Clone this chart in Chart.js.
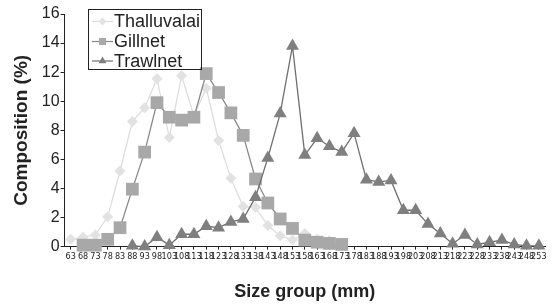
<!DOCTYPE html>
<html>
<head>
<meta charset="utf-8">
<script src="https://cdn.jsdelivr.net/npm/chart.js@4.4.1/dist/chart.umd.min.js"></script>
<style>
    html, body { margin: 0; padding: 0; background: #fff; }
    #wrap { width: 554px; height: 304px; }
</style>
</head>
<body>
<div id="wrap"><canvas id="sizeChart" width="554" height="304"></canvas></div>
<script>
// Size groups (mm)
const sizeGroups = [63, 68, 73, 78, 83, 88, 93, 98, 103, 108, 113, 118, 123, 128, 133, 138, 143, 148, 153,
    158, 163, 168, 173, 178, 183, 188, 193, 198, 203, 208, 213, 218, 223, 228, 233, 238, 243, 248, 253];

// Composition (%) per gear
const thalluvalai = [0.5, 0.65, 0.8, 2.05, 5.2, 8.6, 9.55, 11.55, 7.5, 11.75, 9.0, 10.9, 7.3, 4.7, 2.75, 2.7,
    1.45, 0.75, 0.45, 0.9, 0.5, 0.4, null, null, null, null, null, null, null, null, null, null, null, null,
    null, null, null, null, null];
const gillnet = [null, 0.1, 0.1, 0.5, 1.3, 3.95, 6.5, 9.9, 8.9, 8.7, 8.9, 11.9, 10.6, 9.2, 7.65, 4.65,
    3.0, 1.9, 1.25, 0.45, 0.3, 0.22, 0.15, null, null, null, null, null, null, null, null, null, null, null,
    null, null, null, null, null];
const trawlnet = [null, null, null, null, null, 0.05, 0.0, 0.65, 0.1, 0.85, 0.85, 1.4, 1.3, 1.7, 1.9, 3.4,
    6.1, 9.15, 13.8, 6.3, 7.45, 6.9, 6.5, 7.8, 4.6, 4.45, 4.55, 2.5, 2.5, 1.55, 0.9, 0.2, 0.8, 0.15,
    0.3, 0.45, 0.15, 0.05, 0.05];

const yTicks = [0, 2, 4, 6, 8, 10, 12, 14, 16];

// legend box drawn inside the plot, upper left
const boxLegend = {
    id: 'boxLegend',
    afterDraw(chart) {
        const ctx = chart.ctx;
        ctx.save();
        ctx.strokeStyle = '#222';
        ctx.lineWidth = 1;
        ctx.strokeRect(88.5, 9.5, 113, 60);
        ctx.font = '18px "Liberation Sans", Arial, sans-serif';
        ctx.textBaseline = 'middle';
        ctx.fillStyle = '#222';
        const rowY = [21.5, 41.5, 61];
        chart.data.datasets.forEach((ds, i) => {
            const y = rowY[i];
            ctx.strokeStyle = ds.borderColor;
            ctx.lineWidth = 1.2;
            ctx.beginPath();
            ctx.moveTo(92, y);
            ctx.lineTo(113, y);
            ctx.stroke();
            ctx.fillStyle = ds.pointBackgroundColor;
            Chart.helpers.drawPoint(ctx, {
                pointStyle: ds.pointStyle,
                radius: ds.legendRadius,
                borderWidth: 0,
                rotation: 0
            }, 102.5, y);
            ctx.fillStyle = '#222';
            ctx.fillText(ds.label, 114, y + 1);
        });
        ctx.restore();
    }
};

const ctx = document.getElementById('sizeChart').getContext('2d');
new Chart(ctx, {
    type: 'line',
    data: {
        labels: sizeGroups,
        datasets: [
            {
                label: 'Thalluvalai',
                data: thalluvalai,
                borderColor: '#dcdcdc',
                pointBackgroundColor: '#e2e2e2',
                pointBorderWidth: 0,
                pointStyle: 'rectRot',
                pointRadius: 5.5,
                legendRadius: 4,
                borderWidth: 1.2,
                order: 2,
                clip: false
            },
            {
                label: 'Gillnet',
                data: gillnet,
                borderColor: '#888888',
                pointBackgroundColor: '#a8a8a8',
                pointBorderWidth: 0,
                pointStyle: 'rect',
                pointRadius: 9,
                legendRadius: 5,
                borderWidth: 1.3,
                order: 1,
                clip: false
            },
            {
                label: 'Trawlnet',
                data: trawlnet,
                borderColor: '#6e6e6e',
                pointBackgroundColor: '#7f7f7f',
                pointBorderWidth: 0,
                pointStyle: 'triangle',
                pointRadius: 7.5,
                legendRadius: 4.5,
                borderWidth: 1.3,
                order: 0,
                clip: false
            }
        ]
    },
    options: {
        responsive: false,
        animation: false,
        spanGaps: false,
        layout: { padding: { top: 14, left: 10, right: 0, bottom: 1 } },
        plugins: {
            legend: { display: false },
            tooltip: { enabled: false }
        },
        scales: {
            x: {
                type: 'category',
                offset: true,
                border: { color: '#222', width: 1 },
                grid: { offset: false, drawOnChartArea: false, tickLength: 3, color: '#222' },
                ticks: {
                    autoSkip: false,
                    maxRotation: 0,
                    minRotation: 0,
                    padding: 2,
                    color: '#222',
                    font: { family: '"Liberation Sans Narrow", "DejaVu Sans Condensed", sans-serif', size: 9 }
                },
                title: {
                    display: true,
                    text: 'Size group (mm)',
                    color: '#222',
                    font: { family: '"Liberation Sans", Arial, sans-serif', size: 18, weight: 'bold' },
                    padding: { top: 17, bottom: 0 }
                }
            },
            y: {
                min: 0,
                max: 16,
                afterBuildTicks: axis => { axis.ticks = yTicks.map(v => ({ value: v })); },
                border: { color: '#222', width: 1 },
                grid: { drawOnChartArea: false, tickLength: 4, color: '#222' },
                ticks: {
                    padding: 1,
                    color: '#222',
                    font: { family: '"Liberation Sans", Arial, sans-serif', size: 16 }
                },
                title: {
                    display: true,
                    text: 'Composition (%)',
                    color: '#222',
                    font: { family: '"Liberation Sans", Arial, sans-serif', size: 19, weight: 'bold' },
                    padding: { top: 0, bottom: 8 }
                }
            }
        }
    },
    plugins: [boxLegend]
});
</script>
</body>
</html>
